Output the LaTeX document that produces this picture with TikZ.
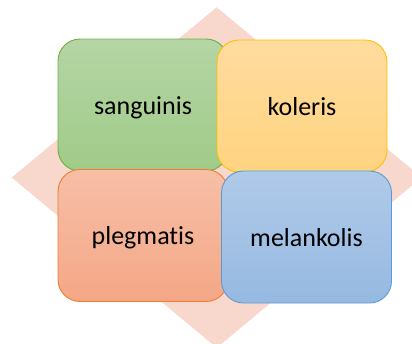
\documentclass[tikz,border=0pt]{standalone}
\usepackage{fontspec}
\setmainfont{Carlito}[Ligatures={NoCommon,NoRare}]
\usepackage{xcolor}
\usepackage{tikz}
\usetikzlibrary{calc}

\definecolor{rautefarbe}{HTML}{F8D7CD}
\definecolor{gruenrand}{HTML}{70AD47}
\definecolor{gruenoben}{HTML}{B5D5A5}
\definecolor{gruenunten}{HTML}{A0CB88}
\definecolor{gelbrand}{HTML}{FFC000}
\definecolor{gelboben}{HTML}{FFDB9E}
\definecolor{gelbunten}{HTML}{FFD480}
\definecolor{orangerand}{HTML}{ED7D31}
\definecolor{orangeoben}{HTML}{F7BFA7}
\definecolor{orangeunten}{HTML}{F4A786}
\definecolor{blaurand}{HTML}{5B9BD5}
\definecolor{blauoben}{HTML}{B0CAE9}
\definecolor{blauunten}{HTML}{96B9E1}

\tikzset{
  feld/.style={rounded corners=22pt,line width=0.9pt,minimum width=170pt,minimum height=132pt,
    inner sep=0pt,text height=18pt,text depth=0pt,font=\fontsize{26}{30}\selectfont},
}

\begin{document}
\begin{tikzpicture}[x=1pt,y=-1pt]

\clip (0,0) rectangle (412,343);															% Rahmen
\fill[rautefarbe] (216.7,7.3) -- (421.7,177.5) -- (216.7,347.7) -- (11.7,177.5) -- cycle;	% Raute hinten

\node (sanguinis) at (143,105) [feld,draw=gruenrand,top color=gruenoben,bottom color=gruenunten] {sanguinis};		% oben links
\node (koleris) at (302,106) [feld,draw=gelbrand,top color=gelboben,bottom color=gelbunten] {koleris};				% oben rechts
\node (plegmatis) at (143,235.5) [feld,draw=orangerand,top color=orangeoben,bottom color=orangeunten] {plegmatis};	% unten links
\node (melankolis) at (306.5,237) [feld,draw=blaurand,top color=blauoben,bottom color=blauunten] {melankolis};		% unten rechts

\end{tikzpicture}
\end{document}
